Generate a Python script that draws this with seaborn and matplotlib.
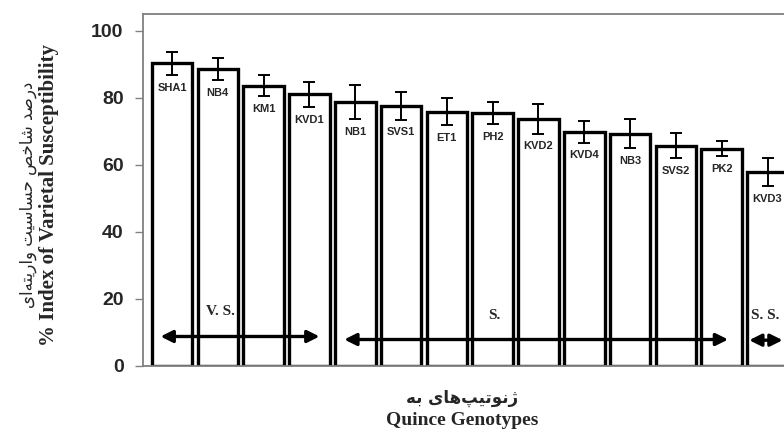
import matplotlib
matplotlib.use("Agg")
import matplotlib.pyplot as plt
import seaborn as sns
import pandas as pd

# Data
genotypes = ["SHA1", "NB4", "KM1", "KVD1", "NB1", "SVS1", "ET1",
             "PH2", "KVD2", "KVD4", "NB3", "SVS2", "PK2", "KVD3"]
index_vs = [90.3, 88.5, 83.6, 81.0, 78.7, 77.6, 75.9,
            75.4, 73.7, 69.8, 69.3, 65.7, 64.8, 57.9]
std_err = [3.5, 3.3, 3.1, 3.8, 5.0, 4.1, 4.0,
           3.3, 4.4, 3.2, 4.3, 3.7, 2.2, 4.2]
y_ticks = [0, 20, 40, 60, 80, 100]

# susceptibility groups: label, arrow start/end (x), arrow y, label x, label y
groups = [
    ("V. S.", -0.25, 3.22, 8.8, 1.05, 16.2),
    ("S.", 3.76, 12.14, 7.9, 7.03, 15.0),
    ("S. S.", 12.6, 13.33, 7.7, 12.96, 15.2),
]

ylabel_fa = "درصد شاخص حساسیت واریته\u200cای"
ylabel_en = "% Index of Varietal Susceptibility"
xlabel_fa = "ژنوتیپ\u200cهای به"
xlabel_en = "Quince Genotypes"

# contextual forms (isolated, final, initial, medial) for the letters used
FORMS = {
    "ا": ("\uFE8D", "\uFE8E", None, None),
    "ب": ("\uFE8F", "\uFE90", "\uFE91", "\uFE92"),
    "پ": ("\uFB56", "\uFB57", "\uFB58", "\uFB59"),
    "ت": ("\uFE95", "\uFE96", "\uFE97", "\uFE98"),
    "ح": ("\uFEA1", "\uFEA2", "\uFEA3", "\uFEA4"),
    "خ": ("\uFEA5", "\uFEA6", "\uFEA7", "\uFEA8"),
    "د": ("\uFEA9", "\uFEAA", None, None),
    "ر": ("\uFEAD", "\uFEAE", None, None),
    "ژ": ("\uFB8A", "\uFB8B", None, None),
    "س": ("\uFEB1", "\uFEB2", "\uFEB3", "\uFEB4"),
    "ش": ("\uFEB5", "\uFEB6", "\uFEB7", "\uFEB8"),
    "ص": ("\uFEB9", "\uFEBA", "\uFEBB", "\uFEBC"),
    "ن": ("\uFEE5", "\uFEE6", "\uFEE7", "\uFEE8"),
    "ه": ("\uFEE9", "\uFEEA", "\uFEEB", "\uFEEC"),
    "و": ("\uFEED", "\uFEEE", None, None),
    "ی": ("\uFBFC", "\uFBFD", "\uFBFE", "\uFBFF"),
}


def shape_fa(text):
    """Join Persian letters and put them in visual (left-to-right) order."""
    out = []
    for i, ch in enumerate(text):
        if ch not in FORMS:
            if ch != "\u200c":
                out.append(ch)
            continue
        prev = text[i - 1] if i > 0 else None
        nxt = text[i + 1] if i + 1 < len(text) else None
        iso, fin, ini, med = FORMS[ch]
        join_prev = prev in FORMS and FORMS[prev][2] is not None
        join_next = ini is not None and nxt in FORMS
        if join_prev and join_next:
            out.append(med)
        elif join_prev:
            out.append(fin)
        elif join_next:
            out.append(ini)
        else:
            out.append(iso)
    return "".join(reversed(out))


sns.set_style("white")
plt.rcParams["font.family"] = ["Liberation Sans", "DejaVu Sans"]

df = pd.DataFrame({"genotype": genotypes, "index": index_vs, "err": std_err})

fig = plt.figure(figsize=(7.84, 4.34), dpi=100)
ax = fig.add_axes([0.1824, 0.1567, 0.8176, 0.8111])

sns.barplot(data=df, x="genotype", y="index", color="white", saturation=1,
            edgecolor="black", linewidth=2.4, width=0.886, errorbar=None, ax=ax)
ax.errorbar(range(len(df)), df["index"], yerr=df["err"], fmt="none",
            ecolor="black", elinewidth=1.4, capsize=4.6, capthick=1.4, zorder=5)

for i, row in df.iterrows():
    ax.text(i, row["index"] - row["err"] - 3.8, row["genotype"], ha="center",
            va="center", fontsize=8, fontweight="bold")

for label, x0, x1, ya, xt, yt in groups:
    ax.annotate("", xy=(x0, ya), xytext=(x1, ya),
                arrowprops=dict(arrowstyle="<|-|>", color="black", lw=2.4,
                                mutation_scale=18, shrinkA=0, shrinkB=0))
    ax.text(xt, yt, label, ha="center", va="center", fontsize=11,
            fontweight="bold", family="Liberation Serif")

ax.set_xlim(-0.633, 13.36)
ax.set_ylim(0, 105)
ax.set_yticks(y_ticks)
ax.set_yticklabels([str(t) for t in y_ticks], fontsize=14, fontweight="bold")
ax.set_xticks([])
ax.set_xlabel("")
ax.set_ylabel("")
ax.tick_params(axis="y", left=True, length=6, width=1, color="#808080", pad=8)
for side in ["top", "left", "bottom"]:
    ax.spines[side].set_color("#808080")
    ax.spines[side].set_linewidth(1.3)
ax.spines["right"].set_visible(False)

fig.text(0.036, 0.55, shape_fa(ylabel_fa), rotation=90, ha="center",
         va="center", fontsize=12, family="DejaVu Sans")
fig.text(0.063, 0.55, ylabel_en, rotation=90, ha="center", va="center",
         fontsize=15, fontweight="bold", family="Liberation Serif")
fig.text(0.589, 0.083, shape_fa(xlabel_fa), ha="center", va="center",
         fontsize=12, fontweight="bold", family="DejaVu Sans")
fig.text(0.589, 0.032, xlabel_en, ha="center", va="center",
         fontsize=14, fontweight="bold", family="Liberation Serif")

fig.savefig("out.png", dpi=100)
plt.close(fig)
